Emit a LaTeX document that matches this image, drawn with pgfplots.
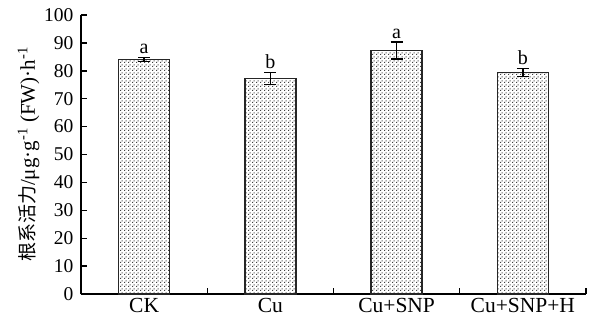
\documentclass[border=0pt]{standalone}
\usepackage{fontspec}
\setmainfont{Liberation Serif}
\newfontfamily\cjk{Noto Sans CJK SC}
\usepackage{pgfplots}
\pgfplotsset{compat=1.18}
\usepackage{pgfplotstable}
\usetikzlibrary{patterns}
\pgfdeclarepatternformonly{mydots}{\pgfqpoint{0pt}{0pt}}{\pgfqpoint{4pt}{4pt}}{\pgfqpoint{4pt}{4pt}}{
  \pgfpathrectangle{\pgfqpoint{0pt}{0pt}}{\pgfqpoint{1.4pt}{1.4pt}}
  \pgfpathrectangle{\pgfqpoint{2pt}{2pt}}{\pgfqpoint{1.4pt}{1.4pt}}
  \pgfusepath{fill}}
\pgfplotstableread{
x y err lab top
0 84.0 0.7 a 84.7
1 77.2 2.2 b 79.4
2 87.3 3.0 a 90.3
3 79.4 1.5 b 80.9
}\datatable
\begin{document}
\begin{tikzpicture}
\begin{axis}[
  scale only axis,
  width=505pt, height=279pt,
  xmin=-0.5, xmax=3.5, ymin=0, ymax=100,
  axis x line=bottom, axis y line=left,
  axis line style={-, line width=1.6pt},
  xtick={-0.5,0.5,1.5,2.5,3.5},
  x tick label as interval,
  xticklabels={CK,Cu,Cu+SNP,Cu+SNP+H},
  ytick={0,10,...,100},
  every tick/.style={black, line width=1.4pt},
  major tick length=6pt,
  tick align=inside,
  /pgf/number format/assume math mode=true,
  yticklabel style={font=\fontsize{19.5}{21}\selectfont, xshift=-4pt},
  xticklabel style={font=\fontsize{21.5}{23}\selectfont, yshift=-1pt},
  ylabel={{\cjk\fontsize{19}{21}\selectfont 根系活力}/μg·g\textsuperscript{-1} (FW)·h\textsuperscript{-1}},
  ylabel style={font=\fontsize{21}{23}\selectfont, yshift=-2pt},
  clip=false,
]
\addplot[ybar, bar width=51pt, draw=black!85, line width=1.6pt,
  pattern=mydots, pattern color=black!75,
  error bars/.cd, y dir=both, y explicit,
  error bar style={line width=1.4pt, black},
  error mark options={rotate=90, mark size=6pt, line width=1.4pt, black}]
  table[x=x, y=y, y error=err] {\datatable};
\addplot[draw=none, mark=none, nodes near coords, point meta=explicit symbolic,
  every node near coord/.append style={font=\fontsize{20}{22}\selectfont, anchor=south, yshift=0pt}]
  table[x=x, y=top, meta=lab] {\datatable};
\end{axis}
\path ([xshift=-81pt,yshift=-28pt]current axis.south west) rectangle ([xshift=9pt,yshift=15pt]current axis.north east);
\end{tikzpicture}
\end{document}
